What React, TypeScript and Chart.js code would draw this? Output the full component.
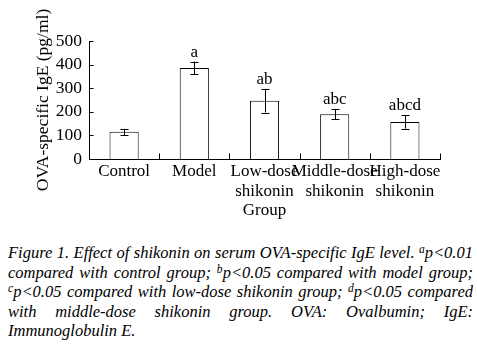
import React, { useEffect, useRef } from "react";
import { Chart, registerables } from "chart.js";

Chart.register(...registerables);

const categories: (string | string[])[] = [
  "Control",
  "Model",
  ["Low-dose", "shikonin", "Group"],
  ["Middle-dose", "shikonin"],
  ["High-dose", "shikonin"],
];
const meanValues = [115, 386, 247, 190, 157];
const errorValues = [13, 27, 50, 22, 28];
const sigLabels = ["", "a", "ab", "abc", "abcd"];
const yMin = 0;
const yMax = 500;
const yStep = 100;
const yTitle = "OVA-specific IgE (pg/ml)";

const FONT = "'Liberation Serif', 'Times New Roman', serif";

const overlayPlugin = {
  id: "overlay",
  afterDatasetsDraw(chart: any) {
    const ctx = chart.ctx as CanvasRenderingContext2D;
    const xs = chart.scales.x;
    const ys = chart.scales.y;
    const meta = chart.getDatasetMeta(0);
    ctx.save();
    ctx.strokeStyle = "#000";
    ctx.fillStyle = "#000";
    ctx.lineWidth = 1;
    // error bars and letters
    meanValues.forEach((v, i) => {
      const bar = meta.data[i];
      const x = Math.round(bar.x) + 0.5;
      const top = ys.getPixelForValue(v + errorValues[i]);
      const bot = ys.getPixelForValue(v - errorValues[i]);
      const cap = 4;
      ctx.beginPath();
      ctx.moveTo(x, top);
      ctx.lineTo(x, bot);
      ctx.moveTo(x - cap, Math.round(top) + 0.5);
      ctx.lineTo(x + cap, Math.round(top) + 0.5);
      ctx.moveTo(x - cap, Math.round(bot) + 0.5);
      ctx.lineTo(x + cap, Math.round(bot) + 0.5);
      ctx.stroke();
      if (sigLabels[i]) {
        ctx.font = `17px ${FONT}`;
        ctx.textAlign = "center";
        ctx.textBaseline = "alphabetic";
        ctx.fillText(sigLabels[i], bar.x, top - 5);
      }
    });
    // inward y ticks
    const left = Math.round(chart.chartArea.left) + 0.5;
    for (let v = yMin; v <= yMax; v += yStep) {
      const y = Math.round(ys.getPixelForValue(v)) + 0.5;
      ctx.beginPath();
      ctx.moveTo(left, y);
      ctx.lineTo(left + 4, y);
      ctx.stroke();
    }
    // inward x ticks at category boundaries
    const bottom = Math.round(chart.chartArea.bottom) + 0.5;
    const n = categories.length;
    const step = xs.getPixelForValue(1) - xs.getPixelForValue(0);
    for (let i = 0; i < n; i++) {
      const xx = Math.round(xs.getPixelForValue(i) + step / 2) + 0.5;
      ctx.beginPath();
      ctx.moveTo(xx, bottom);
      ctx.lineTo(xx, bottom - 6);
      ctx.stroke();
    }
    ctx.restore();
  },
};

export default function App() {
  const canvasRef = useRef<HTMLCanvasElement | null>(null);

  useEffect(() => {
    document.body.style.margin = "0";
    const canvas = canvasRef.current;
    if (!canvas) return;
    const chart = new Chart(canvas, {
      type: "bar",
      data: {
        labels: categories as any,
        datasets: [
          {
            data: meanValues,
            backgroundColor: "#ffffff",
            borderColor: "#000000",
            borderWidth: 1,
            barPercentage: 0.415,
            categoryPercentage: 1,
          },
        ],
      },
      options: {
        responsive: false,
        animation: false,
        devicePixelRatio: 1,
        layout: { padding: { left: 29, right: 37, top: 41, bottom: 0 } },
        plugins: {
          legend: { display: false },
          tooltip: { enabled: false },
        },
        scales: {
          x: {
            type: "category",
            offset: true,
            grid: { display: false, drawTicks: false },
            border: { display: true, color: "#000", width: 1 },
            ticks: {
              color: "#000",
              font: { family: FONT, size: 17, lineHeight: 1.15 },
              padding: 3,
              maxRotation: 0,
              minRotation: 0,
              autoSkip: false,
            },
            afterFit: (scale: any) => {
              scale.height = 69;
            },
          },
          y: {
            min: yMin,
            max: yMax,
            grid: { display: false, drawTicks: false },
            border: { display: true, color: "#000", width: 1 },
            ticks: {
              stepSize: yStep,
              autoSkip: false,
              color: "#000",
              font: { family: FONT, size: 17.5 },
              padding: 7,
            },
            title: {
              display: true,
              text: yTitle,
              color: "#000",
              font: { family: FONT, size: 17.5 },
              padding: { top: 4, bottom: 0 },
            },
            afterFit: (scale: any) => {
              scale.width = 60;
            },
          },
        },
      },
      plugins: [overlayPlugin],
    });
    return () => chart.destroy();
  }, []);

  const lineStyle: React.CSSProperties = {
    textAlign: "justify",
    textAlignLast: "justify" as any,
    whiteSpace: "nowrap",
    height: 19.5,
    lineHeight: "19.5px",
  };
  const supStyle: React.CSSProperties = {
    fontSize: "0.7em",
    verticalAlign: "0.45em",
    lineHeight: 0,
  };

  return (
    <div style={{ position: "absolute", left: 0, top: 0, width: 477, height: 345, background: "#fff" }}>
      <canvas ref={canvasRef} width={477} height={228} style={{ display: "block", width: 477, height: 228 }} />
      <div
        style={{
          position: "absolute",
          left: 8,
          top: 243,
          width: 465,
          fontFamily: FONT,
          fontStyle: "italic",
          fontSize: 16.5,
          color: "#000",
        }}
      >
        <div style={lineStyle}>
          Figure 1. Effect of shikonin on serum OVA-specific IgE level. <sup style={supStyle}>a</sup>p&lt;0.01
        </div>
        <div style={lineStyle}>
          compared with control group; <sup style={supStyle}>b</sup>p&lt;0.05 compared with model group;
        </div>
        <div style={lineStyle}>
          <sup style={supStyle}>c</sup>p&lt;0.05 compared with low-dose shikonin group; <sup style={supStyle}>d</sup>p&lt;0.05 compared
        </div>
        <div style={lineStyle}>with middle-dose shikonin group. OVA: Ovalbumin; IgE:</div>
        <div style={{ ...lineStyle, textAlign: "left", textAlignLast: "left" as any }}>Immunoglobulin E.</div>
      </div>
    </div>
  );
}
